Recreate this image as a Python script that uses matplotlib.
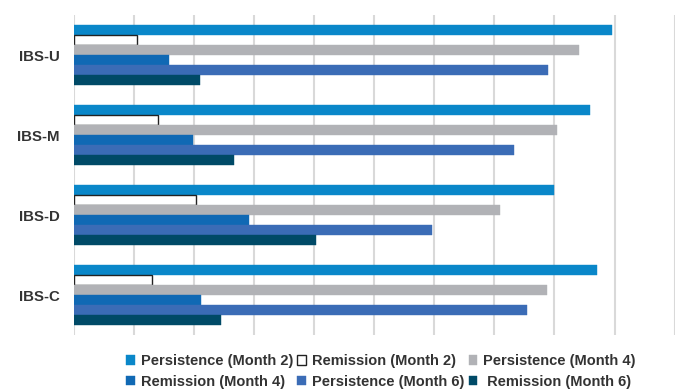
import numpy as np
import matplotlib.pyplot as plt

plt.rcParams['font.family'] = ['Liberation Sans', 'DejaVu Sans']

# categories bottom to top
categories = ['IBS-C', 'IBS-D', 'IBS-M', 'IBS-U']

# values (%), same order as categories
persistence_m2 = [87.0, 79.9, 85.9, 89.6]
remission_m2 = [13.1, 20.3, 14.1, 10.5]
persistence_m4 = [78.7, 70.9, 80.4, 84.1]
remission_m4 = [21.2, 29.2, 19.8, 15.8]
persistence_m6 = [75.5, 59.7, 73.2, 78.9]
remission_m6 = [24.6, 40.4, 26.7, 21.1]

series = [
    ('Persistence (Month 2)', persistence_m2, '#0A87C9', '#0A87C9'),
    ('Remission (Month 2)', remission_m2, 'white', '#222222'),
    ('Persistence (Month 4)', persistence_m4, '#B1B2B6', '#B1B2B6'),
    ('Remission (Month 4)', remission_m4, '#1069B4', '#1069B4'),
    ('Persistence (Month 6)', persistence_m6, '#3B6CB6', '#3B6CB6'),
    (' Remission (Month 6)', remission_m6, '#004A67', '#004A67'),
]

fig = plt.figure(figsize=(6.79, 3.91), dpi=100)
ax = fig.add_axes([0.1083, 0.1432, 0.8854, 0.8184])

y = np.arange(len(categories))
h = 0.125
handles = []
for i, (label, vals, color, edge) in enumerate(series):
    offset = (2.5 - i) * h
    b = ax.barh(y + offset, vals, height=h * 0.95, color=color,
                edgecolor=edge, linewidth=1.0 if color == 'white' else 0.3,
                label=label, zorder=3)
    handles.append(b)

ax.set_xlim(0, 100)
ax.set_ylim(-0.5, len(categories) - 0.5)
ax.set_xticks(np.arange(0, 101, 10))
ax.set_xticklabels([])
ax.tick_params(axis='x', length=0)
ax.tick_params(axis='y', length=0, pad=10)
ax.set_yticks(y)
ax.set_yticklabels(categories, fontsize=10.8, fontweight='bold', color='#333333')
ax.grid(axis='x', color='#D9D9D9', linewidth=1.5, zorder=0)
for s in ax.spines.values():
    s.set_visible(False)

# legend fills column-wise, reorder so rows read left to right
order = [0, 3, 1, 4, 2, 5]
leg = fig.legend([handles[i] for i in order], [series[i][0] for i in order],
                 loc='lower center', bbox_to_anchor=(0.561, -0.028), ncol=3,
                 frameon=False, fontsize=10.5, handlelength=0.6, handleheight=0.6,
                 handletextpad=0.4, columnspacing=0.3, labelspacing=0.45)
for t in leg.get_texts():
    t.set_fontweight('bold')
    t.set_color('#333333')

fig.savefig('out.png', dpi=100)
